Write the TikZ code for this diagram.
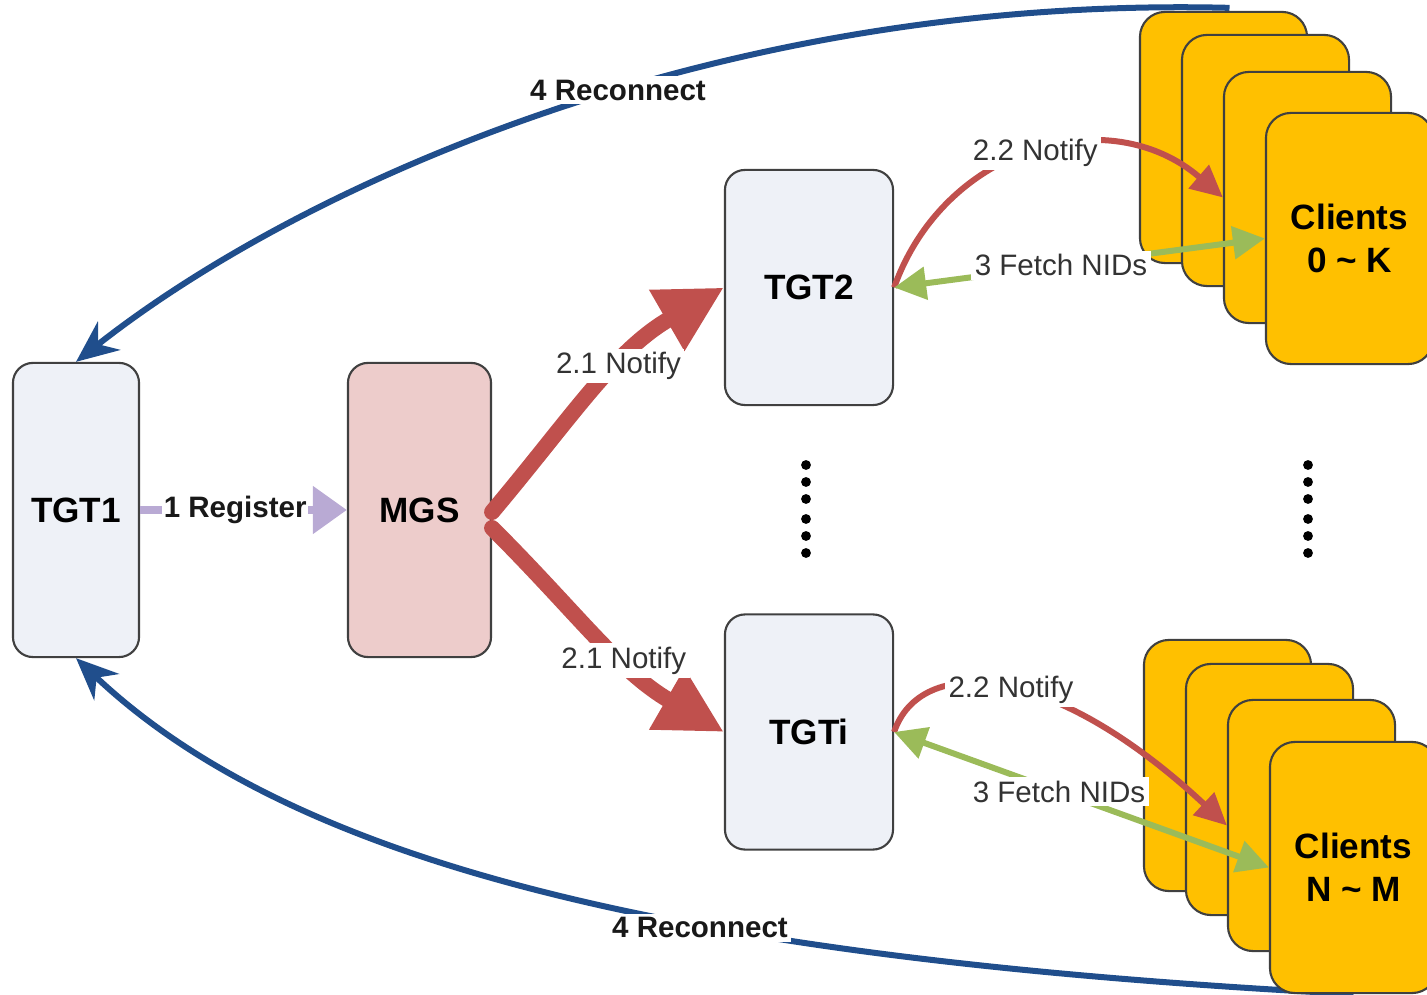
\documentclass[tikz,border=0pt]{standalone}
\usepackage{fontspec}
\setmainfont{Liberation Sans}
\usetikzlibrary{arrows.meta,backgrounds}

\definecolor{tgtfill}{RGB}{238,241,247}
\definecolor{mgsfill}{RGB}{237,204,203}
\definecolor{clientfill}{RGB}{255,192,0}
\definecolor{notifyred}{RGB}{192,80,77}
\definecolor{fetchgreen}{RGB}{155,187,89}
\definecolor{reconblue}{RGB}{32,78,140}
\definecolor{regpurple}{RGB}{185,170,212}

\begin{document}
\begin{tikzpicture}[x=0.01cm,y=-0.01cm,
    box/.style={draw=black!75, line width=0.6pt, rounded corners=0.2cm, align=center,
        inner sep=0pt, font=\fontsize{10}{12.2}\selectfont\bfseries},
    tgt/.style={box, fill=tgtfill, minimum width=1.68cm, minimum height=2.35cm},
    card/.style={box, fill=clientfill, minimum width=1.67cm, minimum height=2.51cm, rounded corners=0.25cm},
    lbl/.style={fill=white, text=black!80, inner sep=1pt, font=\fontsize{8.4}{10}\selectfont},
    blbl/.style={lbl, text=black!90, font=\fontsize{8.4}{10}\selectfont\bfseries}]

    \useasboundingbox (0,0) rectangle (1427,995);

    %serveurs
    \node[box, fill=tgtfill, minimum width=1.26cm, minimum height=2.94cm] (TGT1) at (76,510) {TGT1};
    \node[box, fill=mgsfill, minimum width=1.43cm, minimum height=2.94cm] (MGS) at (419.5,510) {MGS};
    \node[tgt] (TGT2) at (809,287.5) {TGT2};
    \node[tgt] (TGTi) at (809,732) {TGTi};

    %clients
    \foreach \i/\dy in {1/0,2/23,3/60}{
        \node[card] (ca\i) at ({1223.5+42*(\i-1)},{137.5+\dy}) {};
    }
    \node[card] (ca4) at (1349.5,238.5) {Clients\\0 \textasciitilde{} K};
    \foreach \i/\dy in {1/0,2/24,3/60}{
        \node[card] (cb\i) at ({1227.5+42*(\i-1)},{765.5+\dy}) {};
    }
    \node[card] (cb4) at (1353.5,867.5) {Clients\\N \textasciitilde{} M};

    %points
    \foreach \x in {806,1308}{
        \foreach \y in {465,482,499,519,536,553}
            \fill (\x,\y) circle (1.4pt);
    }

    %reconnexion
    \begin{scope}[on background layer]
        \draw[reconblue, line width=0.06cm, -{Stealth[length=0.42cm,width=0.36cm]}]
        ([xshift=0.06cm,yshift=0.03cm]ca1.north) .. controls (720,-5) and (300,185) ..
        node[blbl, pos=0.44] {4 Reconnect} (TGT1.north);
        \draw[reconblue, line width=0.06cm, -{Stealth[length=0.42cm,width=0.36cm]}]
        (cb4.south) .. controls (700,960) and (300,870) ..
        node[blbl, pos=0.39, yshift=-0.03cm] {4 Reconnect} (TGT1.south);
    \end{scope}

    %enregistrement
    \draw[regpurple, line width=0.08cm, -{Triangle[length=0.34cm,width=0.46cm]}]
    (TGT1) -- node[blbl, pos=0.46, inner sep=0.5pt] {1 Register} (MGS);

    %notification
    \draw[notifyred, line width=0.16cm, line cap=round, -{Triangle[length=0.66cm,width=0.66cm]}]
    ([yshift=-0.02cm]MGS.east) to[out=50,in=210] node[lbl, pos=0.6] {2.1 Notify} (TGT2.west);
    \draw[notifyred, line width=0.16cm, line cap=round, -{Triangle[length=0.66cm,width=0.66cm]}]
    ([yshift=-0.18cm]MGS.east) to[out=-45,in=150] node[lbl, pos=0.61] {2.1 Notify} (TGTi.west);

    \draw[notifyred, line width=0.06cm, -{Triangle[length=0.32cm,width=0.3cm]}]
    (TGT2.east) .. controls (945,145) and (1110,100) .. node[lbl, pos=0.5] {2.2 Notify} (ca3.west);
    \draw[notifyred, line width=0.06cm, -{Triangle[length=0.32cm,width=0.3cm]}]
    (TGTi.east) .. controls (920,655) and (1050,660) .. node[lbl, pos=0.52] {2.2 Notify} (cb3.west);

    %recuperation
    \draw[fetchgreen, line width=0.06cm, {Triangle[length=0.32cm,width=0.32cm]}-{Triangle[length=0.32cm,width=0.32cm]}]
    (TGT2.east) -- node[lbl, pos=0.45] {3 Fetch NIDs} (ca4.west);
    \draw[fetchgreen, line width=0.06cm, {Triangle[length=0.32cm,width=0.32cm]}-{Triangle[length=0.32cm,width=0.32cm]}]
    (TGTi.east) -- node[lbl, pos=0.44] {3 Fetch NIDs} (cb4.west);

\end{tikzpicture}
\end{document}
